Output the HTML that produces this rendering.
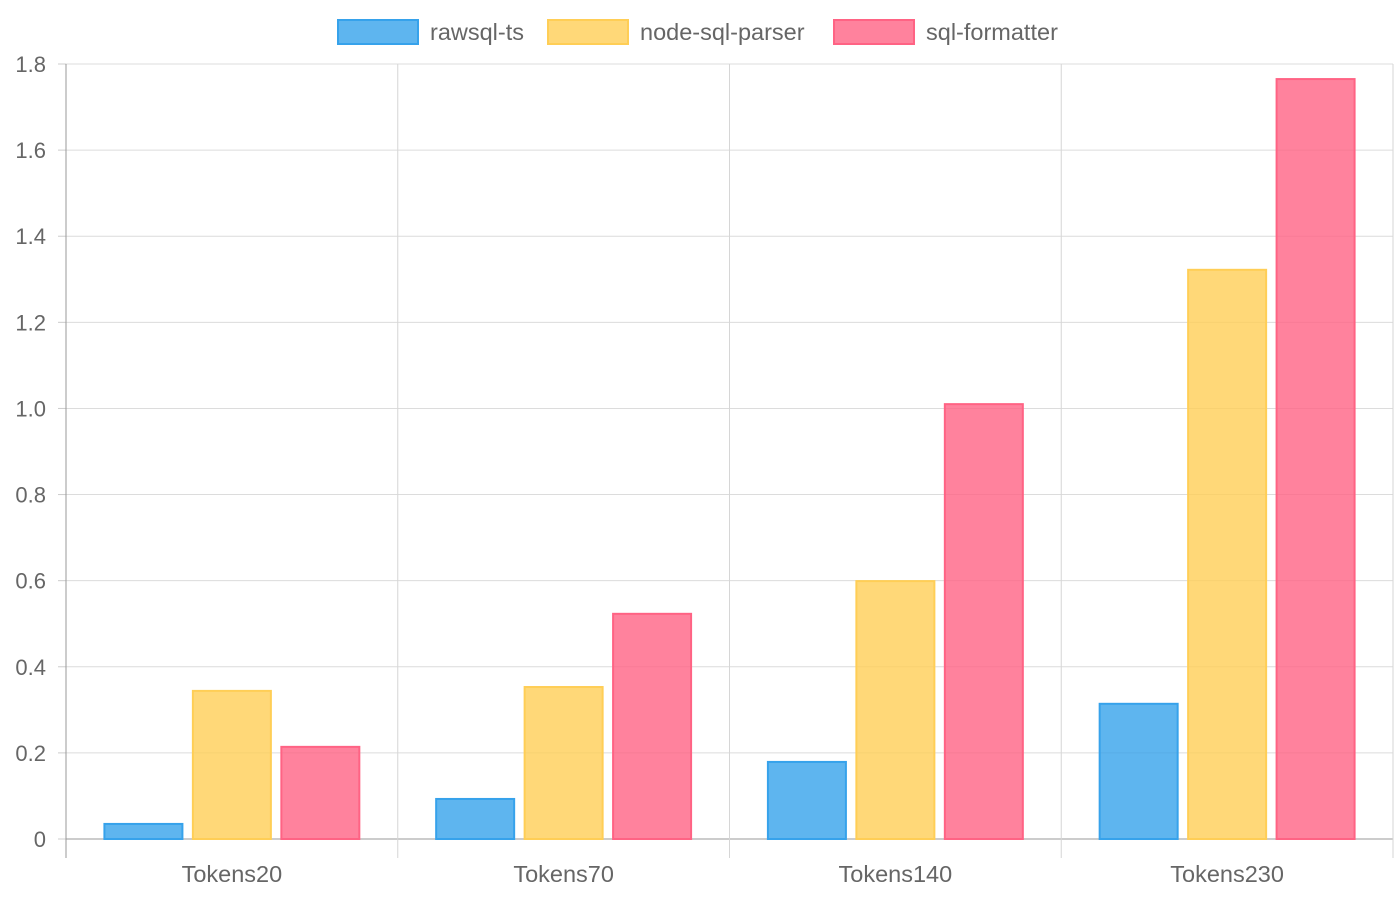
<!DOCTYPE html>
<html><head><meta charset="utf-8"><style>
html,body{margin:0;padding:0;background:#fff;}
svg{display:block;font-family:"Liberation Sans",sans-serif;}
</style></head><body>
<svg id="chart" width="1400" height="900"></svg>
<script>
const categories = ["Tokens20","Tokens70","Tokens140","Tokens230"];
const seriesNames = ["rawsql-ts","node-sql-parser","sql-formatter"];
const rawsqlValues = [0.035,0.093,0.179,0.314];
const nodeSqlParserValues = [0.344,0.353,0.599,1.322];
const sqlFormatterValues = [0.214,0.523,1.010,1.765];
const yTicks = [0,0.2,0.4,0.6,0.8,1.0,1.2,1.4,1.6,1.8];
const yTickLabels = ["0","0.2","0.4","0.6","0.8","1.0","1.2","1.4","1.6","1.8"];

const NS="http://www.w3.org/2000/svg";
const svg=document.getElementById('chart');
const L=66,R=1393,T=64,B=839,YMAX=1.8;
const y=v=>B-(v/YMAX)*(B-T);
const catW=(R-L)/categories.length;
const x=i=>L+catW*i;
function mk(tag,attrs,parent){const e=document.createElementNS(NS,tag);for(const k in attrs)e.setAttribute(k,attrs[k]);(parent||svg).appendChild(e);return e;}
const fills=["rgba(54,162,235,0.8)","rgba(255,206,86,0.8)","rgba(255,99,132,0.8)"];
const strokes=["rgb(54,162,235)","rgb(255,206,86)","rgb(255,99,132)"];
const data=[rawsqlValues,nodeSqlParserValues,sqlFormatterValues];

yTicks.forEach((t,i)=>{
  const g=mk('line',{x1:L,x2:R,y1:y(t),y2:y(t),stroke:i===0?'#999':'#dcdcdc','stroke-width':1});
  
  
  mk('line',{x1:L-8,x2:L,y1:y(t),y2:y(t),stroke:'#ccc'});
  const tx=mk('text',{x:L-20,y:y(t)+8,'text-anchor':'end','font-size':22,fill:'#666'});
  tx.textContent=yTickLabels[i];
  
  
});
for(let i=0;i<=categories.length;i++){
  const gl=mk('line',{x1:x(i),x2:x(i),y1:T,y2:B+19,stroke:i===0?'#999':'#d6d6d6'});
  
  
}
categories.forEach((c,i)=>{
  const tx=mk('text',{x:x(i)+catW/2,y:882,'text-anchor':'middle','font-size':23.5,fill:'#666'});
  tx.textContent=c;
  
  
  const groupW=catW*0.8, slot=groupW/3, bw=78;
  data.forEach((arr,s)=>{
    const bx=x(i)+catW*0.1+slot*s+(slot-bw)/2;
    const r=mk('rect',{x:bx,y:y(arr[i]),width:bw,height:B-y(arr[i]),fill:fills[s],stroke:strokes[s],'stroke-width':2});
    
    
  });
});
const legX=[338,548,834];
seriesNames.forEach((n,s)=>{
  const r=mk('rect',{x:legX[s],y:20,width:80,height:24,fill:fills[s],stroke:strokes[s],'stroke-width':2});
  
  
  const t=mk('text',{x:legX[s]+92,y:40,'font-size':23.5,fill:'#666'});
  t.textContent=n;
  
  
});
</script>
</body></html>
